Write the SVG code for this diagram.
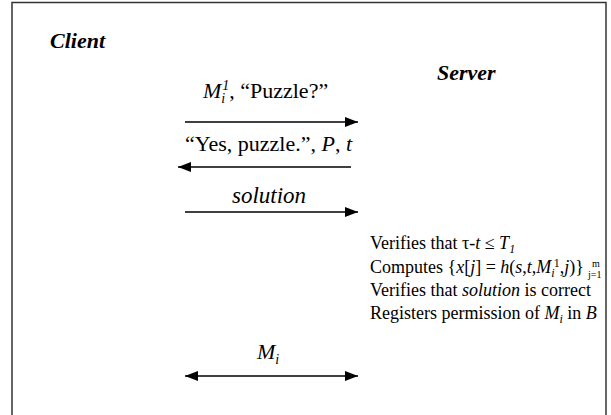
<svg xmlns="http://www.w3.org/2000/svg" width="611" height="415" viewBox="0 0 611 415">
<style>
.t{font-family:"Liberation Serif","Times New Roman",serif;fill:#000}
.big{font-size:22px}
.sm{font-size:18px}
.i{font-style:italic}
.hd{font-size:22px;font-weight:bold;font-style:italic}
.ln{stroke:#000;stroke-width:1.3;fill:none}
</style>
<defs>
<marker id="ah" markerUnits="userSpaceOnUse" markerWidth="14" markerHeight="10" refX="13" refY="5" orient="auto-start-reverse">
<path d="M0,0 L13,5 L0,10 Z" fill="#000"/>
</marker>
</defs>
<rect x="12" y="2.5" width="594" height="430" fill="#fff" stroke="#333" stroke-width="1.5"/>
<g id="client"><text class="t hd" x="50" y="48">Client</text></g>
<g id="server"><text class="t hd" x="437" y="80">Server</text></g>
<g id="connectors">
<line class="ln" x1="185" y1="122" x2="358" y2="122" marker-end="url(#ah)"/>
<line class="ln" x1="351" y1="167" x2="178" y2="167" marker-end="url(#ah)"/>
<line class="ln" x1="185" y1="212" x2="358" y2="212" marker-end="url(#ah)"/>
<line class="ln" x1="185" y1="376" x2="358" y2="376" marker-start="url(#ah)" marker-end="url(#ah)"/>
</g>
<g id="msg1"><text class="t big" x="203" y="98"><tspan class="i">M</tspan><tspan class="i" font-size="14" dy="5">i</tspan><tspan class="i" font-size="14" dx="-3" dy="-13">1</tspan><tspan dy="8">, “Puzzle?”</tspan></text></g>
<g id="msg2"><text class="t big" x="185" y="151">“Yes, puzzle.”, <tspan class="i">P</tspan>, <tspan class="i">t</tspan></text></g>
<g id="msg3"><text class="t i" font-size="23" x="269" y="203" text-anchor="middle">solution</text></g>
<g id="msg4"><text class="t big" x="257" y="359"><tspan class="i">M</tspan><tspan class="i" font-size="14" dy="5">i</tspan></text></g>
<g id="server-steps">
<text class="t sm" x="370" y="249">Verifies that τ-<tspan class="i">t</tspan> ≤ <tspan class="i">T</tspan><tspan class="i" font-size="12" dy="4">1</tspan></text>
<text class="t sm" x="370" y="273">Computes {<tspan class="i">x</tspan>[<tspan class="i">j</tspan>] = <tspan class="i">h</tspan>(<tspan class="i">s</tspan>,<tspan class="i">t</tspan>,<tspan class="i">M</tspan><tspan class="i" font-size="12" dy="4">i</tspan><tspan font-size="12" dx="-1" dy="-10">1</tspan><tspan dy="6">,</tspan><tspan class="i">j</tspan>)}</text>
<text class="t" font-size="10" x="592" y="267">m</text>
<text class="t" font-size="10" x="588" y="278">j=1</text>
<text class="t sm" x="370" y="296">Verifies that <tspan class="i">solution</tspan> is correct</text>
<text class="t sm" x="370" y="319">Registers permission of <tspan class="i">M</tspan><tspan class="i" font-size="12" dy="4">i</tspan><tspan dy="-4"> in </tspan><tspan class="i">B</tspan></text>
</g>
</svg>
